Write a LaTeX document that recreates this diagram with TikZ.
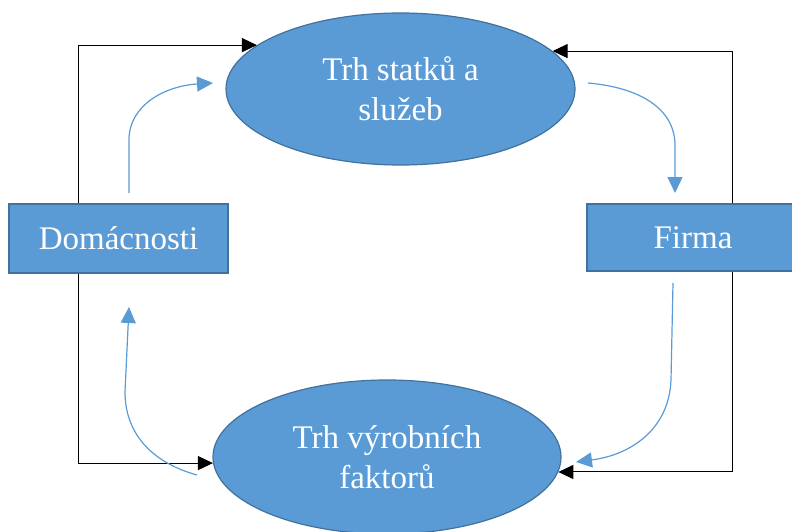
\documentclass[tikz,border=0pt]{standalone}
\usepackage{fontspec}
\setmainfont{Liberation Serif}
\usepackage{tikz}
\usetikzlibrary{shapes.geometric,arrows.meta,calc}
\definecolor{boxblue}{HTML}{5B9BD5}
\definecolor{edgeblue}{HTML}{41719C}
\tikzstyle{market}=[ellipse,draw=edgeblue,fill=boxblue,line width=1.2pt,inner sep=0pt,text=white,align=center,font=\fontsize{33}{40}\selectfont]
\tikzstyle{agent}=[rectangle,draw=edgeblue,fill=boxblue,line width=1.5pt,inner sep=0pt,text=white,font=\fontsize{33}{40}\selectfont]
\tikzstyle{money}=[-{Triangle[length=15pt,width=14pt]},line width=1pt,black]
\tikzstyle{flow}=[-{Triangle[length=16pt,width=15pt]},line width=1.2pt,boxblue]

\begin{document}
\begin{tikzpicture}[x=1pt,y=-1pt]
    \useasboundingbox (0,0) rectangle (792,532);

    \node[market,minimum width=349pt,minimum height=152pt] (goods) at (400.5,89) {Trh statků a\\ služeb};
    \node[market,minimum width=348pt,minimum height=154pt] (factors) at (387,457) {Trh výrobních\\ faktorů};
    \node[agent,minimum width=219pt,minimum height=69pt] (households) at (118.5,238.5) {Domácnosti};
    \node[agent,minimum width=212pt,minimum height=67pt] (firm) at (693,237.5) {Firma};

    % ends of the blue flows
    \coordinate (hhout) at (129,193);
    \coordinate (goodsin) at (213,83);
    \coordinate (goodsout) at (588,83);
    \coordinate (firmin) at (675,193);
    \coordinate (firmout) at (673,283);
    \coordinate (factorsin) at (576,462);
    \coordinate (factorsout) at (197,475);
    \coordinate (hhin) at (129,307);

    % black connectors
    \draw[money] ([xshift=-40.5pt]households.north) |- (goods.163);
    \draw[money] ([xshift=-40.5pt]households.south) |- (factors.182);
    \draw[money] ([xshift=39pt]firm.north) |- (goods.14);
    \draw[money] ([xshift=39pt]firm.south) |- (factors.-5);

    % blue flows
    \draw[flow] (hhout) -- (129,140) .. controls (129,105) and (165,86) .. (goodsin);
    \draw[flow] (goodsout) .. controls (645,88) and (675,112) .. (675,145) -- (firmin);
    \draw[flow] (firmout) -- (671,380) .. controls (669,430) and (630,455) .. (factorsin);
    \draw[flow] (factorsout) .. controls (150,462) and (125,432) .. (125,392) -- (hhin);
\end{tikzpicture}
\end{document}
